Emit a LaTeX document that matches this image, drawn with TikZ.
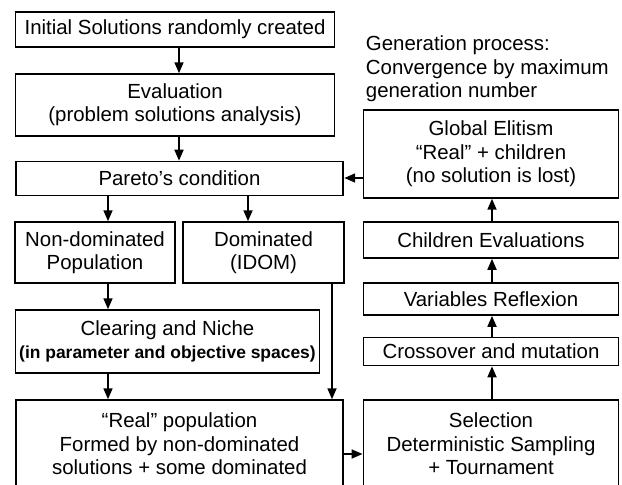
\documentclass[tikz,border=0pt]{standalone}
\usepackage{fontspec}
\setmainfont{Liberation Sans}
\usetikzlibrary{arrows.meta}
\begin{document}
\begin{tikzpicture}[x=1bp, y=-1bp, line width=1.8pt, font={\fontsize{20.5pt}{23.5pt}\selectfont}, line join=miter, >={Triangle[length=11pt,width=9pt]},
	stage/.style 2 args={draw, align=center, inner sep=0pt, minimum width=#1, minimum height=#2}]
	\useasboundingbox (0,0) rectangle (622,485);
	% left column
	\node[stage={320}{35}] (init) at (175,29.5) {Initial Solutions randomly created};
	\node[stage={320}{62}] (eval) at (175,105) {Evaluation\\(problem solutions analysis)};
	\node[stage={329}{34}] (pareto) at (179.5,178.5) {Pareto’s condition};
	\node[stage={160}{61}] (nondom) at (95,252.5) {Non-dominated\\Population};
	\node[stage={161}{61}] (dom) at (263.5,252.5) {Dominated\\(IDOM)};
	\node[stage={305}{63}] (clear) at (167.5,341.5) {Clearing and Niche\\{\bfseries\fontsize{17.5pt}{21pt}\selectfont (in parameter and objective spaces)}};
	\node[stage={329}{88}] (real) at (179.5,444) {“Real” population\\Formed by non-dominated\\solutions + some dominated};
	% right column
	\node[anchor=north west, align=left, inner sep=0pt] (gen) at (365,35) {Generation process:\\Convergence by maximum\\generation number};
	\node[stage={256}{88}] (elite) at (491,154) {Global Elitism\\“Real” + children\\(no solution is lost)};
	\node[stage={256}{36}] (child) at (491,240) {Children Evaluations};
	\node[stage={256}{32}] (vars) at (491,299) {Variables Reflexion};
	\node[stage={256}{28}] (cross) at (491,351.5) {Crossover and mutation};
	\node[stage={256}{88}] (sel) at (491,444) {Selection\\Deterministic Sampling\\+ Tournament};
	% connectors
	\draw[->] (init.south -| 179,0) -- (eval.north -| 179,0);
	\draw[->] (eval.south -| 179,0) -- (pareto.north -| 179,0);
	\draw[->] (pareto.south -| 108,0) -- (nondom.north -| 108,0);
	\draw[->] (pareto.south -| 248,0) -- (dom.north -| 248,0);
	\draw[->] (nondom.south -| 108,0) -- (clear.north -| 108,0);
	\draw[->] (clear.south -| 108,0) -- (real.north -| 108,0);
	\draw[->] (dom.south -| 332,0) -- (real.north -| 332,0);
	\draw[->] (real.east |- 0,454) -- (sel.west |- 0,454);
	\draw[->] (sel.north -| 492,0) -- (cross.south -| 492,0);
	\draw[->] (cross.north -| 492,0) -- (vars.south -| 492,0);
	\draw[->] (vars.north -| 492,0) -- (child.south -| 492,0);
	\draw[->] (child.north -| 492,0) -- (elite.south -| 492,0);
	\draw[->] (elite.west |- 0,178) -- (pareto.east |- 0,178);
\end{tikzpicture}
\end{document}
